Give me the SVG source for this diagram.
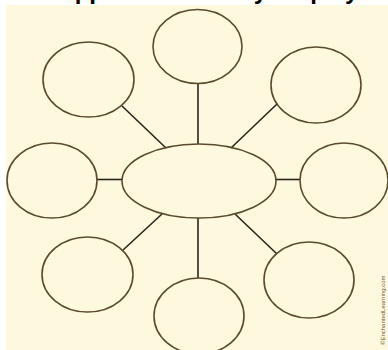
<svg xmlns="http://www.w3.org/2000/svg" width="388" height="350" viewBox="0 0 388 350">
<style>
.n{fill:none;stroke:#5b4b2e;stroke-width:1.6}
.c{stroke:#2b2519;stroke-width:1.6;fill:none}
.t{font-family:"Liberation Sans",Arial,sans-serif;font-weight:bold;font-size:24px;fill:#000}
.cr{font-family:"Liberation Sans",Arial,sans-serif;font-size:6px;fill:#6b6040}
</style>
<rect width="388" height="350" fill="#ffffff"/>
<rect x="6" y="5" width="382" height="345" fill="#fef9de"/>
<text class="t" y="-1"><tspan x="44">Support</tspan><tspan x="146">Details</tspan><tspan x="239">by</tspan><tspan x="273">Display</tspan></text>
<g id="connectors">
<line class="c" x1="198" y1="83" x2="198" y2="144"/>
<line class="c" x1="122" y1="106" x2="166" y2="148"/>
<line class="c" x1="277" y1="104" x2="231" y2="148"/>
<line class="c" x1="97" y1="179.5" x2="122" y2="179.5"/>
<line class="c" x1="276" y1="179.5" x2="300" y2="179.5"/>
<line class="c" x1="162" y1="214" x2="123" y2="250"/>
<line class="c" x1="198" y1="218" x2="198" y2="278"/>
<line class="c" x1="235" y1="214" x2="277" y2="254"/>
</g>
<g id="center"><ellipse class="n" cx="199" cy="181" rx="77" ry="37"/></g>
<g id="top"><ellipse class="n" cx="197.5" cy="46.5" rx="44.5" ry="37"/></g>
<g id="upper-left"><ellipse class="n" cx="88.5" cy="79.5" rx="45.5" ry="37.5"/></g>
<g id="upper-right"><ellipse class="n" cx="316" cy="85" rx="45" ry="38"/></g>
<g id="left"><ellipse class="n" cx="52" cy="180.5" rx="45" ry="37.5"/></g>
<g id="right"><ellipse class="n" cx="344" cy="180.5" rx="44" ry="37.5"/></g>
<g id="lower-left"><ellipse class="n" cx="87.5" cy="274.5" rx="45.5" ry="37.5"/></g>
<g id="bottom"><ellipse class="n" cx="199" cy="316" rx="45" ry="38"/></g>
<g id="lower-right"><ellipse class="n" cx="309" cy="280" rx="45" ry="38"/></g>
<text class="cr" transform="translate(385,345) rotate(-90)">©EnchantedLearning.com</text>
</svg>
